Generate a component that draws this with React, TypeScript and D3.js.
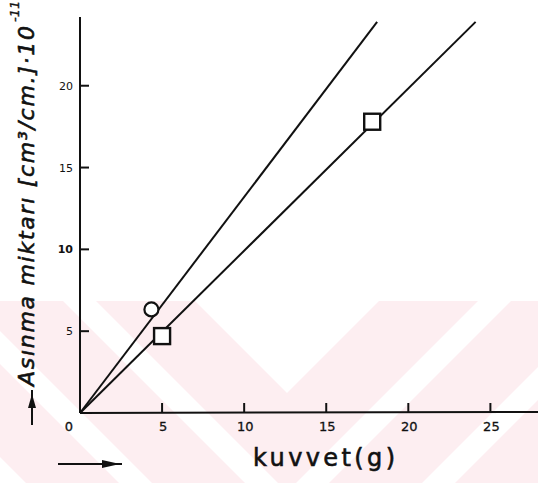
import React from "react";
import * as d3 from "d3";

// ---- data ----
const xTickValues = [5, 10, 15, 20, 25];
const xTickLabels = ["5", "10", "15", "20", "25"];
const yTickValues = [5, 10, 15, 20];
const yTickLabels = ["5", "10", "15", "20"];

const circleX = [4.35];
const circleY = [6.33];
const squareX = [5.0, 17.8];
const squareY = [4.7, 17.8];

const lineCircleX = [0, 18.1];
const lineCircleY = [0, 23.9];
const lineSquareX = [0, 24.1];
const lineSquareY = [0, 23.9];

const xTitle = "kuvvet(g)";
const yTitle = "Asınma miktarı [cm³/cm.]·10";
const yTitleSup = "-11";

// watermark chevron bands (offsets along the chevron direction)
const bandStart = [0, 132, 258, 384, 510];
const bandEnd = [99, 225, 351, 477, 603];

const W = 538;
const H = 483;

export default function App() {
  const x = d3.scaleLinear().domain([0, 27.9]).range([80, 538]);
  const y = d3.scaleLinear().domain([0, 24.2]).range([413, 17]);

  const lineGen = d3
    .line<[number, number]>()
    .x((d) => x(d[0]))
    .y((d) => y(d[1]));

  const lineA = lineGen(lineCircleX.map((v, i) => [v, lineCircleY[i]]));
  const lineB = lineGen(lineSquareX.map((v, i) => [v, lineSquareY[i]]));

  // watermark geometry
  const apexX = 287;
  const apexY = 393;
  const L = 700;
  const bandPolys = bandStart.map((a, i) => {
    const b = bandEnd[i];
    const pts: [number, number][] = [
      [apexX - L, apexY + a - L],
      [apexX, apexY + a],
      [apexX + L, apexY + a - L],
      [apexX + L, apexY + b - L],
      [apexX, apexY + b],
      [apexX - L, apexY + b - L],
    ];
    return pts.map((p) => p.join(",")).join(" ");
  });

  const x0 = x(0);
  const y0 = y(0);
  const sq = 16;
  const font = "'DejaVu Sans', 'Open Sans', sans-serif";
  const ink = "#111";

  return (
    <svg
      width={W}
      height={H}
      viewBox={`0 0 ${W} ${H}`}
      style={{ position: "absolute", left: 0, top: 0, display: "block", background: "#fff" }}
    >
      <defs>
        <clipPath id="wm">
          <rect x={0} y={301} width={W} height={H - 301} />
        </clipPath>
      </defs>
      <g clipPath="url(#wm)">
        {bandPolys.map((p, i) => (
          <polygon key={i} points={p} fill="#fdeef1" />
        ))}
      </g>

      {/* axes */}
      <line x1={x0} y1={y(24.2)} x2={x0} y2={y0} stroke={ink} strokeWidth={2} />
      <line x1={x0} y1={y0} x2={W} y2={y0 - 1} stroke={ink} strokeWidth={2} />

      {xTickValues.map((v, i) => (
        <g key={"xt" + i}>
          <line x1={x(v)} y1={y0} x2={x(v)} y2={y0 - 10} stroke={ink} strokeWidth={2} />
          <text
            x={x(v) + 1}
            y={431}
            fontSize={13}
            fontFamily={font}
            textAnchor="middle"
            fill={ink}
            stroke={ink}
            strokeWidth={0.3}
          >
            {xTickLabels[i]}
          </text>
        </g>
      ))}
      <text x={69} y={431} fontSize={13} fontFamily={font} textAnchor="middle" fill={ink} stroke={ink} strokeWidth={0.3}>
        0
      </text>

      {yTickValues.map((v, i) => (
        <g key={"yt" + i}>
          <line x1={x0} y1={y(v)} x2={x0 + 9} y2={y(v)} stroke={ink} strokeWidth={2} />
          <text
            x={73}
            y={y(v) + 4}
            fontSize={11}
            fontFamily={font}
            textAnchor="end"
            fontWeight={v === 10 ? "bold" : "normal"}
            fill={ink}
          >
            {yTickLabels[i]}
          </text>
        </g>
      ))}

      {/* lines */}
      <path d={lineA ?? ""} stroke={ink} strokeWidth={2} fill="none" />
      <path d={lineB ?? ""} stroke={ink} strokeWidth={2} fill="none" />

      {/* markers */}
      {circleX.map((v, i) => (
        <circle
          key={"c" + i}
          cx={x(v)}
          cy={y(circleY[i])}
          r={7}
          fill="#fff"
          stroke={ink}
          strokeWidth={2.2}
        />
      ))}
      {squareX.map((v, i) => (
        <rect
          key={"s" + i}
          x={x(v) - sq / 2}
          y={y(squareY[i]) - sq / 2}
          width={sq}
          height={sq}
          fill="#fff"
          stroke={ink}
          strokeWidth={2.4}
        />
      ))}

      {/* x title */}
      <text
        x={253}
        y={466}
        fontSize={24}
        fontFamily={font}
        textLength={142}
        lengthAdjust="spacing"
        fill={ink}
        stroke={ink}
        strokeWidth={0.6}
      >
        {xTitle}
      </text>
      {/* x arrow */}
      <line x1={58} y1={464} x2={122} y2={464} stroke={ink} strokeWidth={2} />
      <path d="M102,460 L120,464 L102,468 Z" fill={ink} />

      {/* y title */}
      <text
        transform="translate(34,386) rotate(-90)"
        fontSize={22}
        fontFamily={font}
        fontStyle="italic"
        textLength={360}
        lengthAdjust="spacing"
        fill={ink}
        stroke={ink}
        strokeWidth={0.6}
      >
        {yTitle}
      </text>
      <text
        transform="translate(19,22) rotate(-90)"
        fontSize={13}
        fontFamily={font}
        fontStyle="italic"
        fill={ink}
        stroke={ink}
        strokeWidth={0.4}
      >
        {yTitleSup}
      </text>
      {/* y arrow */}
      <line x1={32} y1={425} x2={32} y2={390} stroke={ink} strokeWidth={2} />
      <path d="M28,408 L32,394 L36,408 Z" fill={ink} />
    </svg>
  );
}
